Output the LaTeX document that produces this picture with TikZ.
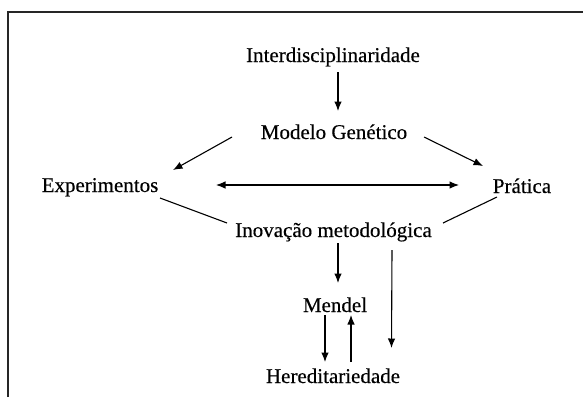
\documentclass[tikz,border=0pt]{standalone}
\usepackage{fontspec}
\setmainfont{Liberation Serif}[FakeBold=0.35]
\usetikzlibrary{arrows.meta}
\begin{document}
\begin{tikzpicture}[x=1pt,y=-1pt,
  lbl/.style={anchor=base,inner sep=0pt,font=\fontsize{21}{25}\selectfont},
  arr/.style={-{Latex[length=9.5pt,width=7.5pt]},line width=1.1pt},
  dblarr/.style={{Latex[length=9.5pt,width=7.5pt]}-{Latex[length=9.5pt,width=7.5pt]},line width=1.1pt},
  link/.style={line width=1.1pt},
  frame/.style={line width=2pt,draw=black!85}]
\useasboundingbox (0,0) rectangle (583,397);
% open frame: top and left sides only
\draw[frame] (7.5,397) -- (7.5,12) -- (583,12);

% labels
\node[lbl] (inter)  at (333,62)    {Interdisciplinaridade};
\node[lbl] (modelo) at (334,139)   {Modelo Genético};
\node[lbl] (expe)   at (100,192)   {Experimentos};
\node[lbl] (prat)   at (522,193)   {Prática};
\node[lbl] (inov)   at (333.5,237) {Inovação metodológica};
\node[lbl] (mendel) at (335,312)   {Mendel};
\node[lbl] (hered)  at (333,383)   {Hereditariedade};

% connectors
\draw[arr] ([shift={(5,10)}]inter.base) -- ([shift={(4,-28)}]modelo.base);
\draw[arr] ([shift={(-102,-2)}]modelo.base) -- ([shift={(73,-22)}]expe.base);
\draw[arr] ([shift={(90,-2)}]modelo.base) -- ([shift={(-39,-27)}]prat.base);
\draw[dblarr] ([shift={(116,-7)}]expe.base) -- ([shift={(-63,-8)}]prat.base);
\draw[link] ([shift={(60,6)}]expe.base) -- ([shift={(-106.5,-14)}]inov.base);
\draw[link] ([shift={(-25,4)}]prat.base) -- ([shift={(109.5,-14)}]inov.base);
\draw[arr] ([shift={(4.5,6)}]inov.base) -- ([shift={(3,-29)}]mendel.base);
\draw[arr] ([shift={(58.5,13)}]inov.base) -- ([shift={(58.5,-35)}]hered.base);
\draw[arr] ([shift={(-10,3)}]mendel.base) -- ([shift={(-8,-21)}]hered.base);
\draw[arr] ([shift={(18,-21)}]hered.base) -- ([shift={(16,3)}]mendel.base);
\end{tikzpicture}
\end{document}
